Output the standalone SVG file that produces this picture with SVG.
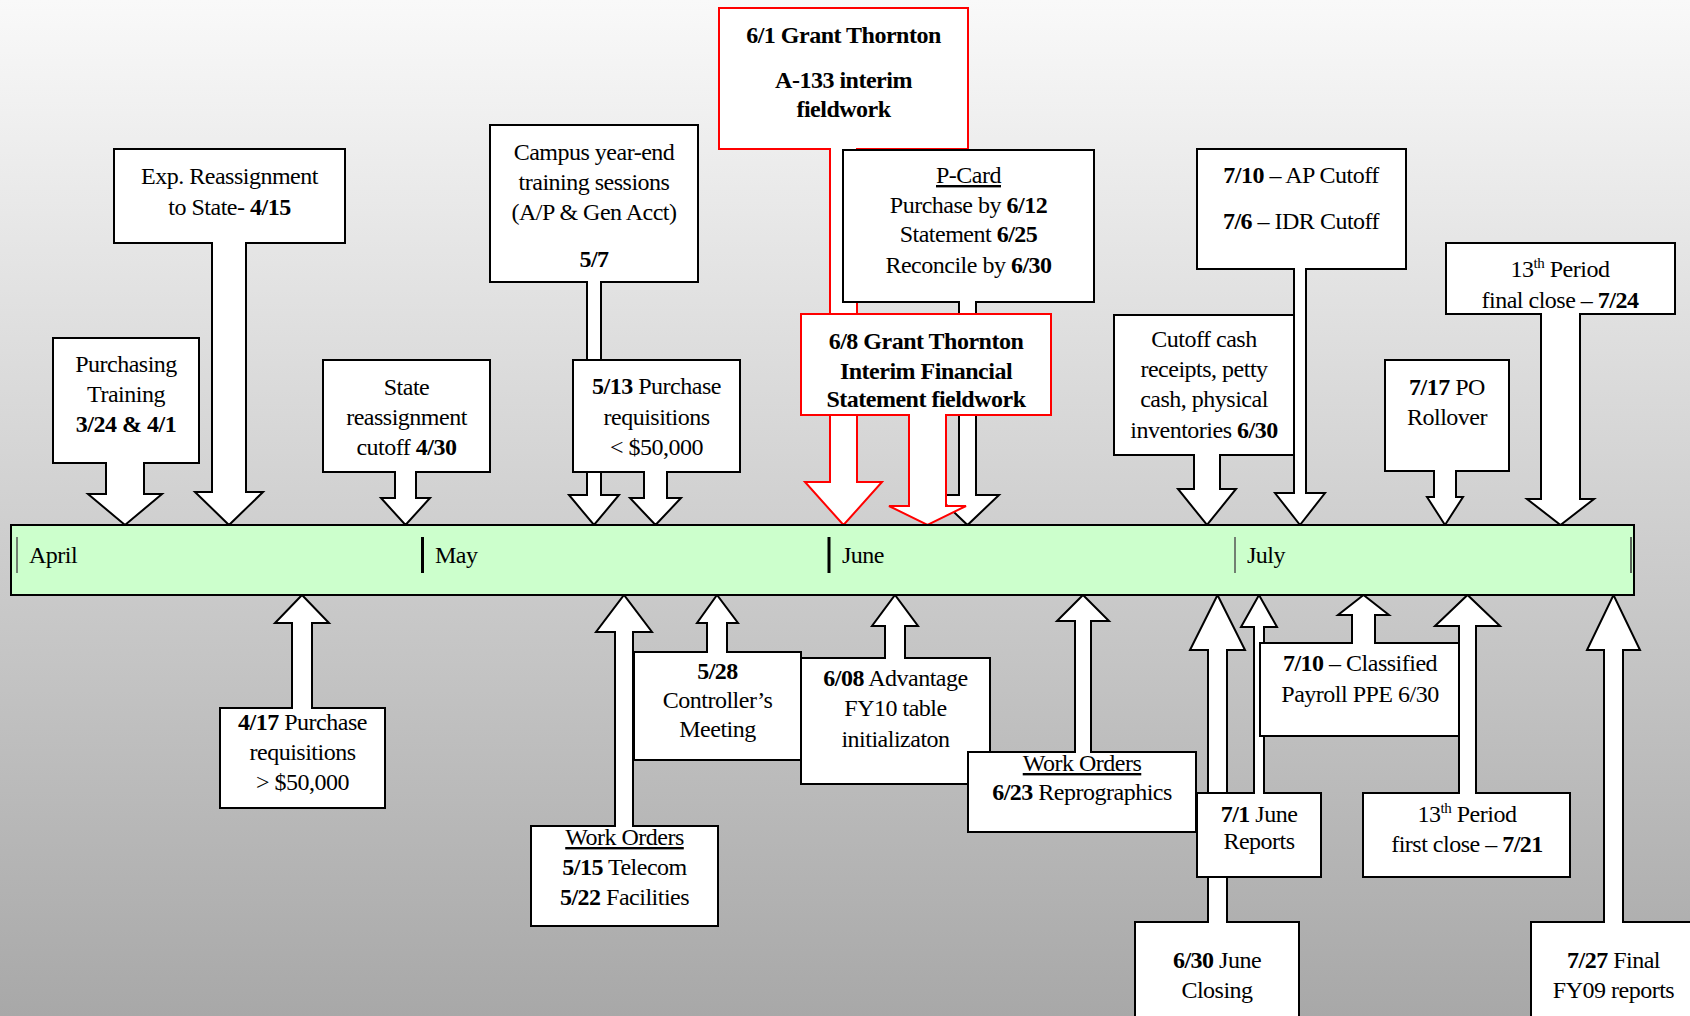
<svg xmlns="http://www.w3.org/2000/svg" width="1690" height="1016" viewBox="0 0 1690 1016">
<defs>
<linearGradient id="bg" x1="0" y1="0" x2="0" y2="1">
<stop offset="0" stop-color="#f9f9f9"/>
<stop offset="1" stop-color="#a8a8a8"/>
</linearGradient>
<style>
.co{fill:#ffffff;stroke:#000000;stroke-width:2;stroke-linejoin:miter}
.red{fill:#ffffff;stroke:#ff0000;stroke-width:2;stroke-linejoin:miter}
text{font-family:"Liberation Serif","Times New Roman",serif;font-size:24px;letter-spacing:-0.5px;fill:#000000;text-anchor:middle}
.b{font-weight:bold}
.u{text-decoration:underline}
.m{text-anchor:start}
.sup{font-size:15px}
</style>
</defs>
<rect x="0" y="0" width="1690" height="1016" fill="url(#bg)"/>

<g id="nodes">
<g id="n-purchasing"><path class="co" d="M53,338 H199 V463 H144 V494 H162 L125,525 L88,494 H106 V463 H53 Z"/>
<text x="126" y="372">Purchasing</text><text x="126" y="402">Training</text><text x="126" y="432" class="b">3/24 &amp; 4/1</text></g>
<g id="n-exp"><path class="co" d="M114,149 H345 V243 H246 V492 H263 L229,525 L195,492 H212 V243 H114 Z"/>
<text x="229.5" y="184">Exp. Reassignment</text><text x="229.5" y="215">to State- <tspan class="b">4/15</tspan></text></g>
<g id="n-state"><path class="co" d="M323,360 H490 V472 H416 V498 H430 L405.5,525 L381,498 H395 V472 H323 Z"/>
<text x="406.5" y="395">State</text><text x="406.5" y="425">reassignment</text><text x="406.5" y="455">cutoff <tspan class="b">4/30</tspan></text></g>
<g id="n-campus"><path class="co" d="M490,125 H698 V282 H601 V495 H619 L594,525 L569,495 H587 V282 H490 Z"/>
<text x="594" y="160">Campus year-end</text><text x="594" y="190">training sessions</text><text x="594" y="220">(A/P &amp; Gen Acct)</text><text x="594" y="267" class="b">5/7</text></g>
<g id="n-513"><path class="co" d="M573,360 H740 V472 H667 V498 H681 L655.5,525 L630,498 H644 V472 H573 Z"/>
<text x="656.5" y="394"><tspan class="b">5/13</tspan> Purchase</text><text x="656.5" y="425">requisitions</text><text x="656.5" y="455">&lt; $50,000</text></g>
<g id="n-61"><path class="red" d="M719,8 H968 V149 H857 V482 H882 L843.5,525 L805,482 H830 V149 H719 Z"/>
<text x="843.5" y="43" class="b">6/1 Grant Thornton</text><text x="843.5" y="88" class="b">A-133 interim</text><text x="843.5" y="117" class="b">fieldwork</text></g>
<g id="n-pcard"><path class="co" d="M843,150 H1094 V302 H976 V495 H999 L967.5,525 L936,495 H959 V302 H843 Z"/>
<text x="968.5" y="183"><tspan class="u">P-Card</tspan></text><text x="968.5" y="213">Purchase by <tspan class="b">6/12</tspan></text><text x="968.5" y="242">Statement <tspan class="b">6/25</tspan></text><text x="968.5" y="273">Reconcile by <tspan class="b">6/30</tspan></text></g>
<g id="n-68"><path class="red" d="M801,314 H1051 V415 H946 V506 H966 L927.5,525 L889,506 H909 V415 H801 Z"/>
<text x="926" y="349" class="b">6/8 Grant Thornton</text><text x="926" y="379" class="b">Interim Financial</text><text x="926" y="407" class="b">Statement fieldwork</text></g>
<g id="n-710ap"><path class="co" d="M1197,149 H1406 V269 H1306 V493 H1325 L1300,525 L1275,493 H1294 V269 H1197 Z"/>
<text x="1301" y="183"><tspan class="b">7/10</tspan> – AP Cutoff</text><text x="1301" y="229"><tspan class="b">7/6</tspan> – IDR Cutoff</text></g>
<g id="n-cutoff"><path class="co" d="M1114,315 H1294 V455 H1220 V489 H1236 L1207,525 L1178,489 H1194 V455 H1114 Z"/>
<text x="1204" y="347">Cutoff cash</text><text x="1204" y="377">receipts, petty</text><text x="1204" y="407">cash, physical</text><text x="1204" y="438">inventories <tspan class="b">6/30</tspan></text></g>
<g id="n-717"><path class="co" d="M1385,360 H1509 V471 H1456 V497 H1463 L1445,525 L1427,497 H1434 V471 H1385 Z"/>
<text x="1447" y="395"><tspan class="b">7/17</tspan> PO</text><text x="1447" y="425">Rollover</text></g>
<g id="n-13final"><path class="co" d="M1446,243 H1675 V314 H1580 V499 H1594 L1560.5,525 L1527,499 H1541 V314 H1446 Z"/>
<text x="1560" y="277">13<tspan class="sup" dy="-9">th</tspan><tspan dy="9"> Period</tspan></text><text x="1560" y="308">final close – <tspan class="b">7/24</tspan></text></g>

<g id="n-417"><path class="co" d="M220,708 H292 V623 H275 L302,595 L329,623 H312 V708 H385 V808 H220 Z"/>
<text x="302.5" y="730"><tspan class="b">4/17</tspan> Purchase</text><text x="302.5" y="760">requisitions</text><text x="302.5" y="790">&gt; $50,000</text></g>
<g id="n-515"><path class="co" d="M531,826 H615 V632 H596 L624,595 L652,632 H633 V826 H718 V926 H531 Z"/>
<text x="624.5" y="845"><tspan class="u">Work Orders</tspan></text><text x="624.5" y="875"><tspan class="b">5/15</tspan> Telecom</text><text x="624.5" y="905"><tspan class="b">5/22</tspan> Facilities</text></g>
<g id="n-528"><path class="co" d="M634,652 H707 V623 H697 L717,595 L738,623 H727 V652 H801 V760 H634 Z"/>
<text x="717.5" y="679" class="b">5/28</text><text x="717.5" y="708">Controller’s</text><text x="717.5" y="737">Meeting</text></g>
<g id="n-608"><path class="co" d="M801,658 H885 V626 H872 L895,595 L918,626 H905 V658 H990 V784 H801 Z"/>
<text x="895.5" y="686"><tspan class="b">6/08</tspan> Advantage</text><text x="895.5" y="716">FY10 table</text><text x="895.5" y="747">initializaton</text></g>
<g id="n-623"><path class="co" d="M968,752 H1075 V621 H1057 L1083,595 L1109,621 H1091 V752 H1196 V832 H968 Z"/>
<text x="1082" y="771"><tspan class="u">Work Orders</tspan></text><text x="1082" y="800"><tspan class="b">6/23</tspan> Reprographics</text></g>
<g id="n-630"><path class="co" d="M1135,922 H1208 V650 H1190 L1217.5,595 L1245,650 H1227 V922 H1299 V1030 H1135 Z"/>
<text x="1217" y="968"><tspan class="b">6/30</tspan> June</text><text x="1217" y="998">Closing</text></g>
<g id="n-71"><path class="co" d="M1197,793 H1254 V627 H1241 L1259,595 L1277,627 H1264 V793 H1321 V877 H1197 Z"/>
<text x="1259" y="822"><tspan class="b">7/1</tspan> June</text><text x="1259" y="849">Reports</text></g>
<g id="n-710cl"><path class="co" d="M1260,643 H1352 V615 H1338 L1363.5,595 L1389,615 H1375 V643 H1459 V736 H1260 Z"/>
<text x="1360" y="671"><tspan class="b">7/10</tspan> – Classified</text><text x="1360" y="702">Payroll PPE 6/30</text></g>
<g id="n-13first"><path class="co" d="M1363,793 H1459 V626 H1435 L1467.5,595 L1500,626 H1476 V793 H1570 V877 H1363 Z"/>
<text x="1467" y="822">13<tspan class="sup" dy="-9">th</tspan><tspan dy="9"> Period</tspan></text><text x="1467" y="852">first close – <tspan class="b">7/21</tspan></text></g>
<g id="n-727"><path class="co" d="M1531,922 H1604 V650 H1587 L1613.5,595 L1640,650 H1623 V922 H1700 V1030 H1531 Z"/>
<text x="1613.5" y="968"><tspan class="b">7/27</tspan> Final</text><text x="1613.5" y="998">FY09 reports</text></g>
</g>

<g id="timeline">
<rect x="11" y="525" width="1623" height="70" fill="#ccffcc" stroke="#000000" stroke-width="2"/>
<line x1="17" y1="537" x2="17" y2="573" stroke="#555555" stroke-width="1.5"/>
<line x1="422.5" y1="537" x2="422.5" y2="573" stroke="#000000" stroke-width="3"/>
<line x1="829" y1="537" x2="829" y2="573" stroke="#000000" stroke-width="3"/>
<line x1="1235" y1="537" x2="1235" y2="573" stroke="#555555" stroke-width="1.5"/>
<line x1="1631" y1="537" x2="1631" y2="573" stroke="#333333" stroke-width="1.5"/>
<text x="29" y="563" class="m">April</text>
<text x="435" y="563" class="m">May</text>
<text x="842" y="563" class="m">June</text>
<text x="1247" y="563" class="m">July</text>
</g>
</svg>
